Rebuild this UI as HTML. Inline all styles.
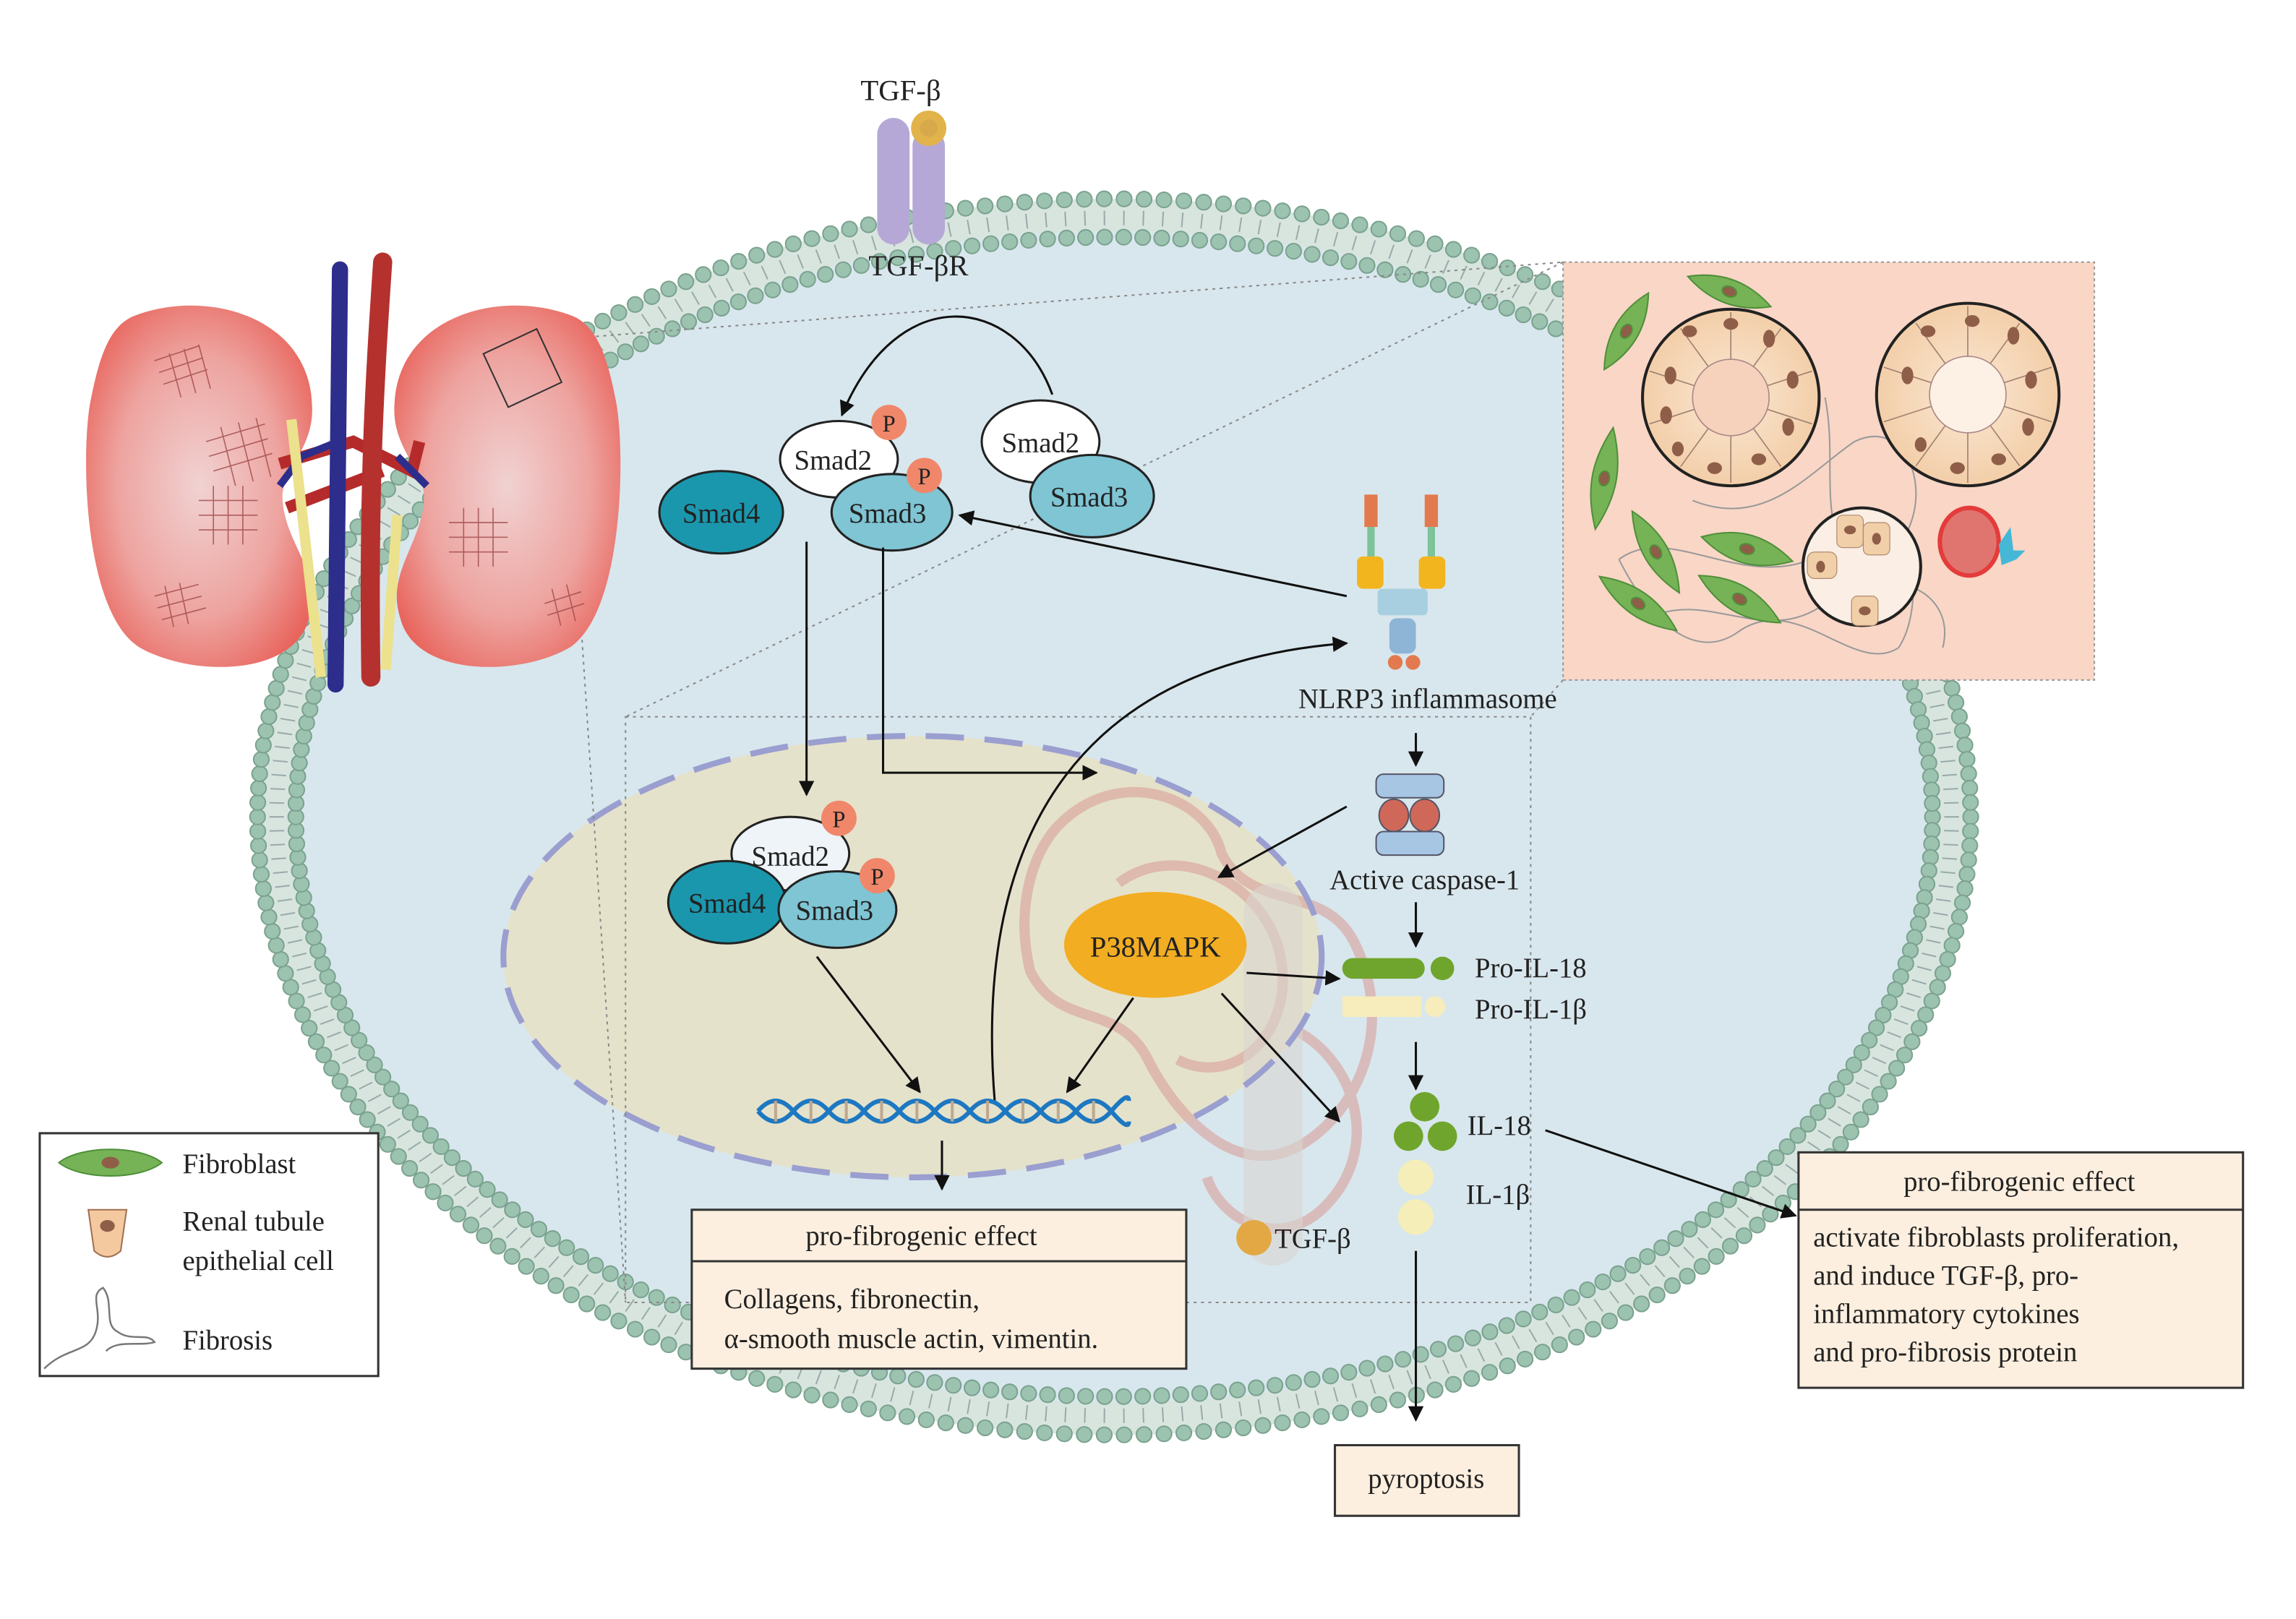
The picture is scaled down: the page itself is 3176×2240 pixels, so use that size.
<!DOCTYPE html>
<html><head><meta charset="utf-8"><style>
html,body{margin:0;padding:0;background:#fff;}
svg{display:block;}
text{font-family:"Liberation Serif",serif;fill:#222;}
</style></head><body>
<svg id="s" width="3176" height="2240" viewBox="0 0 1560 1100" xmlns="http://www.w3.org/2000/svg">
<defs>
<marker id="a" viewBox="0 0 10 10" refX="9" refY="5" markerWidth="7" markerHeight="7" orient="auto-start-reverse"><path d="M0,0 L10,5 L0,10 z" fill="#111"/></marker>
<radialGradient id="kg" cx="50%" cy="50%" r="60%"><stop offset="0" stop-color="#f0d2d2"/><stop offset="0.6" stop-color="#eea4a0"/><stop offset="1" stop-color="#e8645c"/></radialGradient>
<radialGradient id="cellg" cx="50%" cy="50%" r="60%"><stop offset="0" stop-color="#fbe8d4"/><stop offset="1" stop-color="#f1c9a0"/></radialGradient>
</defs>
<rect width="1560" height="1100" fill="#fff"/>
<ellipse cx="757" cy="555" rx="582" ry="420" fill="#8fb5a3" opacity="0.35"/>
<ellipse cx="757" cy="555" rx="560" ry="398" fill="#d8e7ed"/>
<g id="mem"></g>
<ellipse cx="620" cy="650" rx="278" ry="150" fill="#e7e0c4" opacity="0.85"/>
<g fill="none" stroke="#d8a09a" stroke-width="7" opacity="0.6">
<path d="M720,560 C760,520 820,540 830,580 C850,620 900,600 920,640 C950,700 920,760 880,780 C840,800 800,760 780,720 C760,680 720,700 700,660 C690,620 700,580 720,560z"/>
<path d="M760,600 C800,570 860,600 870,650 C880,700 840,740 800,720"/>
<path d="M880,700 C920,720 940,780 900,820 C870,850 830,830 820,800"/>
</g>
<rect x="845" y="600" width="40" height="260" rx="20" fill="#d8d6d0" opacity="0.6"/>
<ellipse cx="620" cy="650" rx="278" ry="150" fill="none" stroke="#9a9fd0" stroke-width="4" stroke-dasharray="26 14"/>
<rect x="425" y="487" width="615" height="398" fill="none" stroke="#888" stroke-width="1" stroke-dasharray="2 3"/>
<g stroke="#888" stroke-width="1" stroke-dasharray="2 3" fill="none">
<line x1="385" y1="230" x2="1062" y2="178"/><line x1="385" y1="275" x2="425" y2="885"/>
<line x1="1062" y1="462" x2="1040" y2="487"/><line x1="1062" y1="178" x2="425" y2="487"/>
</g>
<rect x="1062" y="178" width="361" height="284" fill="#f9d6c6" stroke="#999" stroke-dasharray="2 2"/>
<g stroke="#999" fill="none" stroke-width="1">
<path d="M1100,380 C1140,350 1200,420 1260,360 C1300,330 1310,410 1290,440 C1260,460 1220,400 1180,430 C1150,450 1120,420 1100,380"/>
<path d="M1150,340 C1200,360 1230,320 1260,300 C1300,280 1320,350 1280,380"/>
<path d="M1120,420 C1160,400 1200,440 1240,410 C1280,380 1330,400 1320,440"/>
<path d="M1240,270 C1250,320 1230,360 1270,400"/>
</g>
<circle cx="1176" cy="270" r="60" fill="url(#cellg)" stroke="#222" stroke-width="2"/>
<circle cx="1337" cy="268" r="62" fill="url(#cellg)" stroke="#222" stroke-width="2"/>
<g id="tub"></g>
<circle cx="1176" cy="270" r="26" fill="#f6d2bc" stroke="#a88" stroke-width="0.8"/>
<circle cx="1337" cy="268" r="26" fill="#fdf0e4" stroke="#a88" stroke-width="0.8"/>
<circle cx="1265" cy="385" r="40" fill="#fbeee4" stroke="#222" stroke-width="2"/>
<g fill="#f1cfa8" stroke="#b08a70" stroke-width="0.6"><rect x="1248" y="350" width="18" height="22" rx="4"/><rect x="1266" y="355" width="18" height="22" rx="4"/><rect x="1228" y="375" width="20" height="18" rx="5"/><rect x="1258" y="405" width="18" height="20" rx="4"/></g>
<g fill="#8f5e48">
<ellipse cx="1135" cy="255" rx="4" ry="6"/><ellipse cx="1148" cy="225" rx="5" ry="4"/><ellipse cx="1176" cy="220" rx="5" ry="4"/><ellipse cx="1202" cy="230" rx="4" ry="6"/><ellipse cx="1218" cy="258" rx="4" ry="6"/><ellipse cx="1215" cy="290" rx="4" ry="6"/><ellipse cx="1195" cy="312" rx="5" ry="4"/><ellipse cx="1165" cy="318" rx="5" ry="4"/><ellipse cx="1140" cy="305" rx="4" ry="5"/><ellipse cx="1132" cy="282" rx="4" ry="6"/>
<ellipse cx="1296" cy="255" rx="4" ry="6"/><ellipse cx="1310" cy="225" rx="5" ry="4"/><ellipse cx="1340" cy="218" rx="5" ry="4"/><ellipse cx="1368" cy="228" rx="4" ry="6"/><ellipse cx="1380" cy="258" rx="4" ry="6"/><ellipse cx="1378" cy="290" rx="4" ry="6"/><ellipse cx="1358" cy="312" rx="5" ry="4"/><ellipse cx="1330" cy="318" rx="5" ry="4"/><ellipse cx="1305" cy="302" rx="4" ry="5"/>
<ellipse cx="1257" cy="360" rx="4" ry="3"/><ellipse cx="1275" cy="366" rx="3" ry="4"/><ellipse cx="1237" cy="385" rx="3" ry="4"/><ellipse cx="1267" cy="415" rx="4" ry="3"/>
</g>
<ellipse cx="1338" cy="368" rx="20" ry="23" fill="#e07570" stroke="#e43b3b" stroke-width="3"/>
<path d="M1358,370 l8,-12 l2,16 l8,0 l-6,6 l-10,4z" fill="#45b8d8"/>
<g fill="#76b356" stroke="#4f8f3a" stroke-width="1">
<g transform="translate(1105,225) rotate(-60)"><path d="M-30,0 C-10,-11 10,-11 30,0 C10,11 -10,11 -30,0Z"/><ellipse rx="5" ry="3.5" fill="#8f5e48"/></g>
<g transform="translate(1175,198) rotate(20)"><path d="M-30,0 C-10,-11 10,-11 30,0 C10,11 -10,11 -30,0Z"/><ellipse rx="5" ry="3.5" fill="#8f5e48"/></g>
<g transform="translate(1090,325) rotate(-80)"><path d="M-35,0 C-10,-11 10,-11 35,0 C10,11 -10,11 -35,0Z"/><ellipse rx="5" ry="3.5" fill="#8f5e48"/></g>
<g transform="translate(1125,375) rotate(60)"><path d="M-32,0 C-10,-11 10,-11 32,0 C10,11 -10,11 -32,0Z"/><ellipse rx="5" ry="3.5" fill="#8f5e48"/></g>
<g transform="translate(1187,373) rotate(15)"><path d="M-32,0 C-10,-13 10,-13 32,0 C10,13 -10,13 -32,0Z"/><ellipse rx="5" ry="3.5" fill="#8f5e48"/></g>
<g transform="translate(1113,410) rotate(35)"><path d="M-32,0 C-10,-11 10,-11 32,0 C10,11 -10,11 -32,0Z"/><ellipse rx="5" ry="3.5" fill="#8f5e48"/></g>
<g transform="translate(1182,407) rotate(30)"><path d="M-32,0 C-10,-12 10,-12 32,0 C10,12 -10,12 -32,0Z"/><ellipse rx="5" ry="3.5" fill="#8f5e48"/></g>
</g>
<g>
<path d="M90,215 C140,195 210,215 212,275 C214,305 190,320 192,340 C194,370 220,390 210,420 C200,460 130,460 95,440 C55,415 55,300 62,270 C68,240 75,222 90,215Z" fill="url(#kg)"/>
<path d="M390,215 C340,195 270,215 268,275 C266,305 290,320 288,340 C286,370 262,390 272,420 C282,460 352,460 387,440 C425,415 425,300 418,270 C412,240 405,222 390,215Z" fill="url(#kg)"/>
<g stroke="#a04848" stroke-width="0.8" fill="none" opacity="0.8">
<path d="M105,245 l30,-10 M108,253 l30,-10 M111,261 l30,-10 M115,240 l8,30 M125,237 l8,30 M135,234 l8,30"/>
<path d="M140,300 l40,-12 M142,310 l40,-12 M145,320 l40,-12 M150,290 l10,40 M162,287 l10,40 M174,284 l10,40"/>
<path d="M135,340 l40,0 M135,350 l40,0 M135,360 l40,0 M145,330 l0,40 M155,330 l0,40 M165,330 l0,40"/>
<path d="M105,405 l30,-8 M107,413 l30,-8 M110,421 l30,-8 M112,398 l6,28 M122,396 l6,28"/>
<path d="M305,355 l40,0 M305,365 l40,0 M305,375 l40,0 M315,345 l0,40 M325,345 l0,40 M335,345 l0,40"/>
<path d="M370,410 l25,-8 M372,418 l25,-8 M375,400 l6,25 M385,397 l6,25"/>
</g>
<path d="M190,315 L240,300 L280,320 L285,300 M195,345 L260,320" stroke="#b52b2b" stroke-width="8" fill="none"/>
<path d="M190,330 L205,310 L230,300 M270,310 L290,330" stroke="#2d2d8c" stroke-width="5" fill="none"/>
<line x1="198" y1="285" x2="218" y2="460" stroke="#ece18c" stroke-width="7"/>
<line x1="270" y1="350" x2="262" y2="455" stroke="#ece18c" stroke-width="7"/>
<line x1="231" y1="183" x2="228" y2="465" stroke="#2d2d8c" stroke-width="11" stroke-linecap="round"/>
<path d="M260,178 C255,250 250,330 252,460" stroke="#b5312e" stroke-width="13" stroke-linecap="round" fill="none"/>
<rect x="335" y="230" width="40" height="40" fill="none" stroke="#333" stroke-width="1" transform="rotate(-25 355 250)"/>
</g>
<rect x="596" y="80" width="22" height="86" rx="11" fill="#b5a8d6"/>
<rect x="620" y="88" width="22" height="78" rx="11" fill="#b5a8d6"/>
<circle cx="631" cy="87" r="12" fill="#e2b34a"/><circle cx="631" cy="87" r="6" fill="#d7a94a"/>
<text x="612" y="68" font-size="20" text-anchor="middle">TGF-β</text>
<text x="624" y="187" font-size="20" text-anchor="middle">TGF-βR</text>
<path d="M715,268 C690,200 610,190 572,282" fill="none" stroke="#111" stroke-width="1.5" marker-end="url(#a)"/>
<ellipse cx="490" cy="348" rx="42" ry="28" fill="#1b97ad" stroke="#222" stroke-width="1.5"/>
<text x="490" y="355" font-size="19" text-anchor="middle">Smad4</text>
<ellipse cx="570" cy="312" rx="40" ry="26" fill="#fff" stroke="#222" stroke-width="1.5"/>
<text x="566" y="319" font-size="19" text-anchor="middle">Smad2</text>
<ellipse cx="606" cy="348" rx="41" ry="26" fill="#7fc5d4" stroke="#222" stroke-width="1.5"/>
<text x="603" y="355" font-size="19" text-anchor="middle">Smad3</text>
<circle cx="604" cy="287" r="12" fill="#f0876a"/><text x="604" y="293" font-size="16" text-anchor="middle">P</text>
<circle cx="628" cy="323" r="12" fill="#f0876a"/><text x="628" y="329" font-size="16" text-anchor="middle">P</text>
<ellipse cx="707" cy="300" rx="40" ry="28" fill="#fff" stroke="#222" stroke-width="1.5"/>
<text x="707" y="307" font-size="19" text-anchor="middle">Smad2</text>
<ellipse cx="742" cy="337" rx="42" ry="28" fill="#7fc5d4" stroke="#222" stroke-width="1.5"/>
<text x="740" y="344" font-size="19" text-anchor="middle">Smad3</text>
<line x1="915" y1="405" x2="652" y2="350" stroke="#111" stroke-width="1.5" marker-end="url(#a)"/>
<g>
<rect x="927" y="336" width="9" height="22" fill="#e37a4f"/><rect x="968" y="336" width="9" height="22" fill="#e37a4f"/>
<rect x="929" y="358" width="5" height="22" fill="#7cc39a"/><rect x="970" y="358" width="5" height="22" fill="#7cc39a"/>
<rect x="922" y="378" width="18" height="22" rx="4" fill="#f2b51e"/><rect x="964" y="378" width="18" height="22" rx="4" fill="#f2b51e"/>
<rect x="936" y="400" width="34" height="18" rx="3" fill="#a8cfe0"/>
<rect x="944" y="420" width="18" height="24" rx="5" fill="#8eb4d6"/>
<circle cx="948" cy="450" r="5" fill="#e37a4f"/><circle cx="960" cy="450" r="5" fill="#e37a4f"/>
</g>
<text x="970" y="481" font-size="19" text-anchor="middle">NLRP3 inflammasome</text>
<line x1="548" y1="368" x2="548" y2="540" stroke="#111" stroke-width="1.5" marker-end="url(#a)"/>
<polyline points="600,372 600,525 745,525" fill="none" stroke="#111" stroke-width="1.5" marker-end="url(#a)"/>
<path d="M676,750 C660,560 740,450 915,437" fill="none" stroke="#111" stroke-width="1.5" marker-end="url(#a)"/>
<ellipse cx="537" cy="580" rx="40" ry="25" fill="#eef4f8" stroke="#222" stroke-width="1.5"/>
<text x="537" y="588" font-size="19" text-anchor="middle">Smad2</text>
<ellipse cx="494" cy="613" rx="40" ry="28" fill="#1b97ad" stroke="#222" stroke-width="1.5"/>
<text x="494" y="620" font-size="19" text-anchor="middle">Smad4</text>
<ellipse cx="569" cy="618" rx="40" ry="26" fill="#7fc5d4" stroke="#222" stroke-width="1.5"/>
<text x="567" y="625" font-size="19" text-anchor="middle">Smad3</text>
<circle cx="570" cy="556" r="12" fill="#f0876a"/><text x="570" y="562" font-size="16" text-anchor="middle">P</text>
<circle cx="596" cy="595" r="12" fill="#f0876a"/><text x="596" y="601" font-size="16" text-anchor="middle">P</text>
<g fill="none" stroke="#1d78c1" stroke-width="3">
<path d="M515,755 q12,-14 24,0 t24,0 t24,0 t24,0 t24,0 t24,0 t24,0 t24,0 t24,0 t24,0 t12,-7"/>
<path d="M515,755 q12,14 24,0 t24,0 t24,0 t24,0 t24,0 t24,0 t24,0 t24,0 t24,0 t24,0 t12,7"/>
</g>
<g stroke="#c0a890" stroke-width="2"><path d="M527,748v14M551,748v14M575,748v14M599,748v14M623,748v14M647,748v14M671,748v14M695,748v14M719,748v14M743,748v14"/></g>
<line x1="555" y1="650" x2="625" y2="742" stroke="#111" stroke-width="1.5" marker-end="url(#a)"/>
<line x1="640" y1="775" x2="640" y2="808" stroke="#111" stroke-width="1.5" marker-end="url(#a)"/>
<ellipse cx="785" cy="642" rx="62" ry="36" fill="#f2ad22"/>
<text x="785" y="650" font-size="20" text-anchor="middle">P38MAPK</text>
<line x1="915" y1="548" x2="828" y2="596" stroke="#111" stroke-width="1.5" marker-end="url(#a)"/>
<line x1="770" y1="678" x2="725" y2="742" stroke="#111" stroke-width="1.5" marker-end="url(#a)"/>
<line x1="847" y1="661" x2="910" y2="665" stroke="#111" stroke-width="1.5" marker-end="url(#a)"/>
<line x1="830" y1="675" x2="910" y2="762" stroke="#111" stroke-width="1.5" marker-end="url(#a)"/>
<line x1="962" y1="498" x2="962" y2="520" stroke="#111" stroke-width="1.5" marker-end="url(#a)"/>
<rect x="935" y="526" width="46" height="16" rx="5" fill="#a6c6e4" stroke="#556" stroke-width="1"/>
<rect x="935" y="565" width="46" height="16" rx="5" fill="#a6c6e4" stroke="#556" stroke-width="1"/>
<ellipse cx="947" cy="554" rx="10" ry="11" fill="#d0685a" stroke="#556"/><ellipse cx="968" cy="554" rx="10" ry="11" fill="#d0685a" stroke="#556"/>
<text x="968" y="604" font-size="19" text-anchor="middle">Active caspase-1</text>
<line x1="962" y1="613" x2="962" y2="643" stroke="#111" stroke-width="1.5" marker-end="url(#a)"/>
<rect x="912" y="651" width="56" height="14" rx="7" fill="#6fa52c"/><circle cx="980" cy="658" r="8" fill="#6fa52c"/>
<text x="1002" y="664" font-size="19">Pro-IL-18</text>
<rect x="912" y="677" width="54" height="14" fill="#f7ecbb"/><circle cx="975" cy="684" r="7" fill="#f7ecbb"/>
<text x="1002" y="692" font-size="19">Pro-IL-1β</text>
<line x1="962" y1="708" x2="962" y2="740" stroke="#111" stroke-width="1.5" marker-end="url(#a)"/>
<circle cx="968" cy="752" r="10" fill="#6fa52c"/><circle cx="957" cy="772" r="10" fill="#6fa52c"/><circle cx="980" cy="772" r="10" fill="#6fa52c"/>
<text x="997" y="771" font-size="19">IL-18</text>
<circle cx="962" cy="800" r="12" fill="#f6eeb8"/><circle cx="962" cy="827" r="12" fill="#f6eeb8"/>
<text x="996" y="818" font-size="19">IL-1β</text>
<line x1="962" y1="850" x2="962" y2="965" stroke="#111" stroke-width="1.5" marker-end="url(#a)"/>
<line x1="1050" y1="768" x2="1220" y2="826" stroke="#111" stroke-width="1.5" marker-end="url(#a)"/>
<circle cx="852" cy="841" r="12" fill="#e3a844"/>
<text x="866" y="848" font-size="19">TGF-β</text>
<rect x="470" y="822" width="336" height="108" fill="#fcefdf" stroke="#333" stroke-width="1.5"/>
<line x1="470" y1="857" x2="806" y2="857" stroke="#333" stroke-width="1.5"/>
<text x="626" y="846" font-size="19" text-anchor="middle">pro-fibrogenic effect</text>
<text x="492" y="889" font-size="19">Collagens, fibronectin,</text>
<text x="492" y="916" font-size="19">α-smooth muscle actin, vimentin.</text>
<rect x="1222" y="783" width="302" height="160" fill="#fcefdf" stroke="#333" stroke-width="1.5"/>
<line x1="1222" y1="822" x2="1524" y2="822" stroke="#333" stroke-width="1.5"/>
<text x="1372" y="809" font-size="19" text-anchor="middle">pro-fibrogenic effect</text>
<text x="1232" y="847" font-size="19">activate fibroblasts proliferation,</text>
<text x="1232" y="873" font-size="19">and induce TGF-β, pro-</text>
<text x="1232" y="899" font-size="19">inflammatory cytokines</text>
<text x="1232" y="925" font-size="19">and pro-fibrosis protein</text>
<rect x="907" y="982" width="125" height="48" fill="#fcefdf" stroke="#333" stroke-width="1.5"/>
<text x="969" y="1011" font-size="19" text-anchor="middle">pyroptosis</text>
<rect x="27" y="770" width="230" height="165" fill="#fff" stroke="#333" stroke-width="1.5"/>
<path d="M40,790 C55,778 95,778 110,790 C95,802 55,802 40,790Z" fill="#76b356" stroke="#4f8f3a"/>
<ellipse cx="75" cy="790" rx="6" ry="4" fill="#8f5e48"/>
<text x="124" y="797" font-size="19">Fibroblast</text>
<path d="M60,822 L86,822 L82,850 Q73,858 64,850Z" fill="#f4c9a0" stroke="#a07050"/>
<ellipse cx="73" cy="833" rx="5" ry="4" fill="#8f5e48"/>
<text x="124" y="836" font-size="19">Renal tubule</text>
<text x="124" y="863" font-size="19">epithelial cell</text>
<path d="M30,930 C45,915 60,920 65,905 C70,890 60,880 70,875 C78,885 70,900 80,905 C90,912 100,905 105,912 C95,915 80,910 72,918" fill="none" stroke="#777" stroke-width="1.2"/>
<text x="124" y="917" font-size="19">Fibrosis</text>
</svg>
<script>
(function(){
var g=document.getElementById('mem');
var cx=757,cy=555,h='';
var N=270;
for(var i=0;i<N;i++){var t=i/N*2*Math.PI;
var c=Math.cos(t),s=Math.sin(t);
var xo=cx+582*c,yo=cy+420*s,xi=cx+556*c,yi=cy+394*s;
var xm1=cx+574*c,ym1=cy+412*s,xm2=cx+564*c,ym2=cy+402*s;
h+='<line x1="'+xm1+'" y1="'+ym1+'" x2="'+xm2+'" y2="'+ym2+'" stroke="#9aa" stroke-width="1"/>';
h+='<circle cx="'+xo+'" cy="'+yo+'" r="5.2" fill="#9cc2b0" stroke="#7ba28f" stroke-width="1"/>';
h+='<circle cx="'+xi+'" cy="'+yi+'" r="5.2" fill="#9cc2b0" stroke="#7ba28f" stroke-width="1"/>';}
g.innerHTML=h;
var tb=document.getElementById('tub'),k='';
[[1176,270,60],[1337,268,62]].forEach(function(o){
for(var j=0;j<10;j++){var a=(j+0.5)/10*2*Math.PI;
k+='<line x1="'+(o[0]+26*Math.cos(a))+'" y1="'+(o[1]+26*Math.sin(a))+'" x2="'+(o[0]+(o[2]-2)*Math.cos(a))+'" y2="'+(o[1]+(o[2]-2)*Math.sin(a))+'" stroke="#a08070" stroke-width="0.8"/>';}});
tb.innerHTML=k;
})();
</script>
</body></html>
